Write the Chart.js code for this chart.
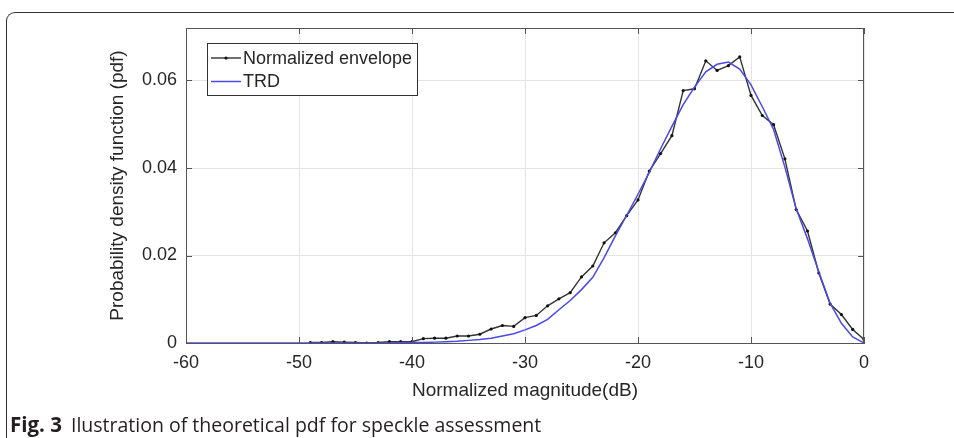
<!DOCTYPE html>
<html><head><meta charset="utf-8">
<script src="https://cdn.jsdelivr.net/npm/chart.js@4"></script>
<style>
html,body{margin:0;padding:0;background:#fff;width:954px;height:438px;overflow:hidden}
#frame{position:absolute;left:6px;top:12px;width:1000px;height:500px;border-left:1.5px solid #333;border-top:1.5px solid #333;border-top-left-radius:9px;box-sizing:border-box}
#wrap{position:absolute;left:0;top:0;width:954px;height:438px}
#cap{position:absolute;left:10px;top:411px;font-family:"Open Sans";font-size:19.5px;color:#231f20;white-space:nowrap;line-height:26px}
#cap b{font-size:20.5px;margin-right:9px}
</style></head><body>
<div id="frame"></div>
<div id="wrap"><canvas id="c" width="954" height="438"></canvas></div>
<div id="cap"><b>Fig. 3</b>Ilustration of theoretical pdf for speckle assessment</div>
<script>
// ---- data ----
const envelopeDb = [-49,-48,-47,-46,-45,-44,-43,-42,-41,-40,-39,-38,-37,-36,-35,-34,-33,-32,-31,-30,-29,-28,-27,-26,-25,-24,-23,-22,-21,-20,-19,-18,-17,-16,-15,-14,-13,-12,-11,-10,-9,-8,-7,-6,-5,-4,-3,-2,-1,0];
const envelopePdf = [0.0001,0.0001,0.0003,0.0002,0.0001,0.0000,0.0001,0.0003,0.0003,0.0003,0.0010,0.0011,0.0011,0.0016,0.0016,0.0020,0.0032,0.0040,0.0038,0.0058,0.0063,0.0085,0.0101,0.0115,0.0151,0.0176,0.0229,0.0252,0.0291,0.0327,0.0393,0.0433,0.0474,0.0577,0.0581,0.0645,0.0623,0.0634,0.0654,0.0566,0.0520,0.0499,0.0421,0.0305,0.0256,0.0160,0.0089,0.0065,0.0031,0.0008];
const trdDb = [-60,-59,-58,-57,-56,-55,-54,-53,-52,-51,-50,-49,-48,-47,-46,-45,-44,-43,-42,-41,-40,-39,-38,-37,-36,-35,-34,-33,-32,-31,-30,-29,-28,-27,-26,-25,-24,-23,-22,-21,-20,-19,-18,-17,-16,-15,-14,-13,-12,-11,-10,-9,-8,-7,-6,-5,-4,-3,-2,-1,0];
const trdPdf = [0,0,0,0,0,0,0,0,0,0,0,0,0,0,0,0,0,0,0,0.0001,0.0001,0.0001,0.0002,0.0003,0.0004,0.0006,0.0008,0.0011,0.0016,0.0021,0.0030,0.0040,0.0054,0.0076,0.0097,0.0122,0.0150,0.0195,0.0245,0.0292,0.0340,0.0390,0.0444,0.0495,0.0545,0.0585,0.0620,0.0637,0.0642,0.0626,0.0590,0.0540,0.0488,0.0402,0.0307,0.0238,0.0163,0.0091,0.0045,0.0014,0.0000];
const xTickValues = [-60,-50,-40,-30,-20,-10,0];
const xTickLabels = ['-60','-50','-40','-30','-20','-10','0'];
const yTickValues = [0,0.02,0.04,0.06];
const yTickLabels = ['0','0.02','0.04','0.06'];
const seriesNames = ['Normalized envelope','TRD'];

const FONT = '"Liberation Sans", Arial, sans-serif';
const TXT = '#262626';

const boxPlugin = {
  id:'boxPlugin',
  afterDraw(chart){
    const ctx = chart.ctx, a = chart.chartArea;
    const xs = chart.scales.x, ys = chart.scales.y;
    ctx.save();
    ctx.strokeStyle = '#555'; ctx.lineWidth = 1;
    ctx.beginPath();
    ctx.moveTo(a.left, a.top+0.5); ctx.lineTo(a.right, a.top+0.5);
    ctx.moveTo(a.right-0.5, a.top); ctx.lineTo(a.right-0.5, a.bottom);
    const tl = 6;
    xTickValues.forEach(v=>{
      const px = Math.round(xs.getPixelForValue(v))+0.5;
      ctx.moveTo(px, a.bottom); ctx.lineTo(px, a.bottom-tl);
      ctx.moveTo(px, a.top); ctx.lineTo(px, a.top+tl);
    });
    yTickValues.forEach(v=>{
      const py = Math.round(ys.getPixelForValue(v))+0.5;
      ctx.moveTo(a.left, py); ctx.lineTo(a.left+tl, py);
      ctx.moveTo(a.right, py); ctx.lineTo(a.right-tl, py);
    });
    ctx.stroke();
    // legend
    const lx=207, ly=43, lw=210, lh=52;
    ctx.fillStyle='#fff'; ctx.fillRect(lx,ly,lw,lh);
    ctx.strokeStyle='#333'; ctx.lineWidth=1;
    ctx.strokeRect(lx+0.5,ly+0.5,lw,lh);
    const rows=[58,81.5];
    chart.data.datasets.slice().sort((p,q)=>p.legendIndex-q.legendIndex).forEach((ds,i)=>{
      const y=rows[i];
      ctx.strokeStyle=ds.borderColor; ctx.lineWidth=ds.borderWidth;
      ctx.beginPath(); ctx.moveTo(211,y); ctx.lineTo(241,y); ctx.stroke();
      if(ds.pointRadius>0){ctx.fillStyle=ds.pointBackgroundColor;ctx.beginPath();ctx.arc(226,y,ds.pointRadius,0,Math.PI*2);ctx.fill();}
      ctx.fillStyle=TXT; ctx.font='18px '+FONT; ctx.textBaseline='middle'; ctx.textAlign='left';
      ctx.fillText(ds.label,243,y+1);
    });
    ctx.restore();
  }
};

new Chart(document.getElementById('c'),{
  type:'line',
  data:{datasets:[
    {label:seriesNames[0],legendIndex:0,data:envelopeDb.map((x,i)=>({x:x,y:envelopePdf[i]})),borderColor:'#333333',borderWidth:1.4,pointRadius:1.6,pointBackgroundColor:'#111',pointBorderWidth:0,pointHoverRadius:0,tension:0,order:2},
    {label:seriesNames[1],legendIndex:1,data:trdDb.map((x,i)=>({x:x,y:trdPdf[i]})),borderColor:'#4848ec',borderWidth:1.5,pointRadius:0,tension:0,order:1}
  ]},
  plugins:[boxPlugin],
  options:{
    responsive:false, animation:false, devicePixelRatio:1,
    layout:{padding:{left:106,right:90,top:28,bottom:36}},
    plugins:{legend:{display:false},tooltip:{enabled:false}},
    scales:{
      x:{type:'linear',min:-60,max:0,
        afterBuildTicks(s){s.ticks=xTickValues.map(v=>({value:v}));},
        afterFit(s){s.height=59;},
        ticks:{callback:(v)=>xTickLabels[xTickValues.indexOf(v)],font:{family:FONT,size:18},color:TXT,padding:9,maxRotation:0,autoSkip:false},
        grid:{color:'#e4e4e4',drawTicks:false,lineWidth:1},
        border:{display:true,color:'#555',width:1},
        title:{display:true,text:'Normalized magnitude(dB)',font:{family:FONT,size:19},color:TXT,padding:{top:0,bottom:0}}
      },
      y:{type:'linear',min:0,max:0.072,
        afterBuildTicks(s){s.ticks=yTickValues.map(v=>({value:v}));},
        afterFit(s){s.width=80;},
        ticks:{callback:(v)=>yTickLabels[yTickValues.indexOf(v)],font:{family:FONT,size:18},color:TXT,padding:9},
        grid:{color:'#e4e4e4',drawTicks:false,lineWidth:1},
        border:{display:true,color:'#555',width:1},
        title:{display:true,text:'Probability density function (pdf)',font:{family:FONT,size:19},color:TXT,padding:{top:0,bottom:0}}
      }
    }
  }
});
</script>
</body></html>
